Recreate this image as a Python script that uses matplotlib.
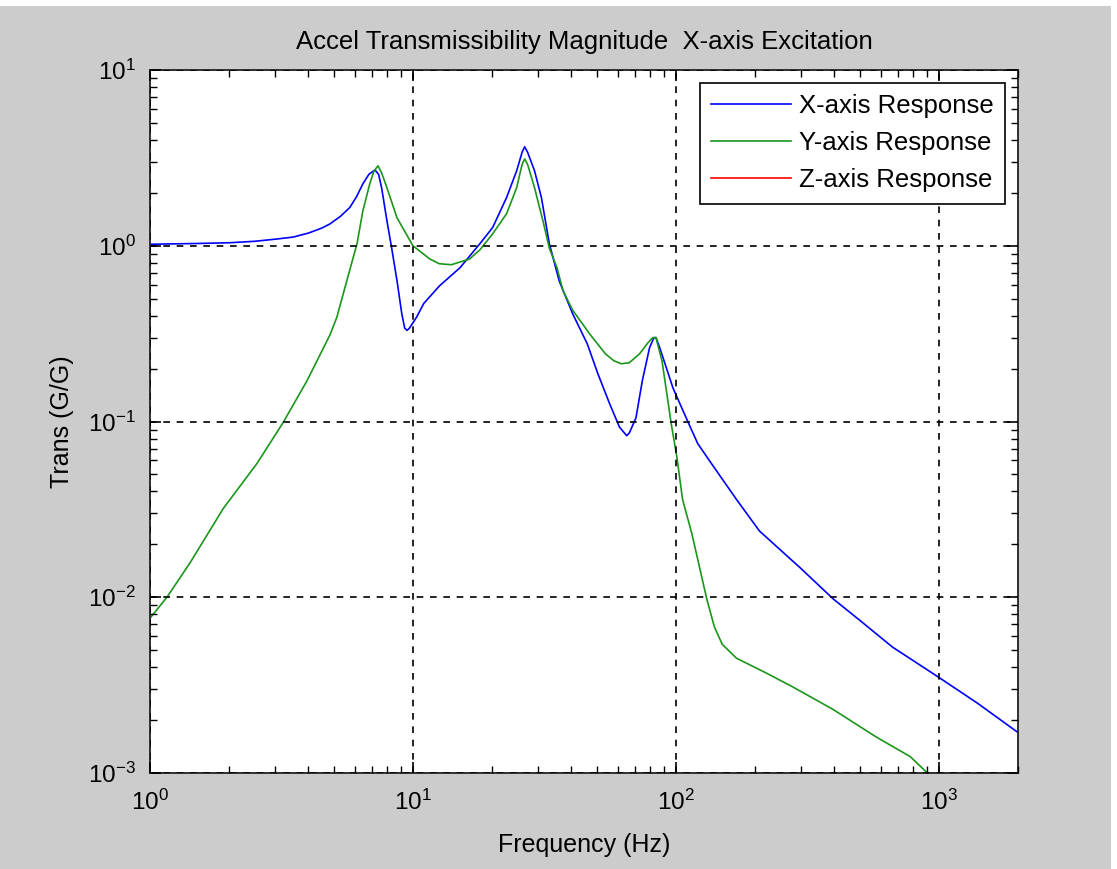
import matplotlib
matplotlib.use("Agg")
import matplotlib.pyplot as plt
from matplotlib.ticker import LogLocator, NullFormatter
from matplotlib.patches import Rectangle

plt.rcParams['font.family'] = ['Liberation Sans', 'DejaVu Sans']
plt.rcParams['mathtext.fontset'] = 'custom'
plt.rcParams['mathtext.rm'] = 'Liberation Sans'
plt.rcParams['mathtext.it'] = 'Liberation Sans'

title = "Accel Transmissibility Magnitude  X-axis Excitation"
xlabel = "Frequency (Hz)"
ylabel = "Trans (G/G)"
series_names = ["X-axis Response", "Y-axis Response", "Z-axis Response"]

freq_x = [1.0, 1.5, 2.0, 2.5, 3.0, 3.5, 4.0, 4.5, 4.83, 5.3, 5.75, 6.1, 6.45, 6.8, 7.17,
          7.4, 7.6, 7.96, 8.3, 8.7, 9.07, 9.3, 9.5, 9.7, 10.3, 11.0, 12.6, 15.1, 18.0,
          20.1, 22.7, 24.8, 26.0, 26.6, 27.3, 29.0, 30.8, 33.0, 36.0, 40.5, 46, 50.5,
          56, 61, 65, 66.5, 70.5, 74.5, 79.4, 82.5, 84, 86.8, 97.5, 110, 121, 134, 170,
          208, 300, 396, 500, 667, 1000, 1400, 2000]
trans_x = [1.02, 1.03, 1.04, 1.06, 1.09, 1.12, 1.18, 1.26, 1.33, 1.47, 1.65, 1.9, 2.25, 2.55, 2.7,
           2.55, 2.14, 1.39, 0.97, 0.63, 0.41, 0.34, 0.33, 0.34, 0.39, 0.47, 0.59, 0.75, 1.03,
           1.27, 1.88, 2.67, 3.4, 3.66, 3.4, 2.67, 1.88, 1.03, 0.63, 0.41, 0.277, 0.187,
           0.126, 0.093, 0.083, 0.086, 0.105, 0.17, 0.263, 0.30, 0.30, 0.263, 0.155, 0.103, 0.075, 0.06, 0.036,
           0.0238, 0.0145, 0.0098, 0.0074, 0.0052, 0.0035, 0.0025, 0.0017]

freq_y = [1.0, 1.16, 1.42, 1.9, 2.55, 3.2, 3.95, 4.83, 5.13, 5.6, 6.13, 6.45, 6.85, 7.1, 7.36,
          7.6, 7.96, 8.7, 10.0, 11.6, 12.6, 14.0, 16.4, 18.0, 20.1, 22.7, 24.8, 26.0, 26.6,
          27.3, 29.0, 31.2, 33.0, 35.3, 37.2, 40.5, 47, 53.9, 58, 62, 66.5, 72.8, 78.2, 81.6,
          84, 88.6, 92, 96, 101, 106, 115, 131, 140, 150, 170, 221, 277, 396, 579, 778, 945, 1000]
trans_y = [0.0076, 0.0100, 0.0157, 0.032, 0.0576, 0.098, 0.17, 0.31, 0.39, 0.63, 1.03, 1.58, 2.25, 2.65, 2.85,
           2.6, 2.14, 1.44, 1.0, 0.84, 0.79, 0.78, 0.84, 0.95, 1.17, 1.52, 2.14, 2.9, 3.12,
           2.9, 2.14, 1.39, 0.97, 0.75, 0.555, 0.43, 0.315, 0.243, 0.222, 0.213, 0.216, 0.243, 0.28, 0.30,
           0.30, 0.22, 0.15, 0.097, 0.062, 0.036, 0.023, 0.0098, 0.0068, 0.0054, 0.0045, 0.0037, 0.0031, 0.0023, 0.0016, 0.00124, 0.00094, 0.00088]

freq_z = []
trans_z = []

W, H = 1117, 869
fig = plt.figure(figsize=(W / 100, H / 100), dpi=100, facecolor='#cccccc')
# thin white screenshot border
fig.patches.append(Rectangle((0, 1 - 6 / H), 1, 6 / H, transform=fig.transFigure,
                             facecolor='white', edgecolor='none', zorder=-10))
fig.patches.append(Rectangle((1 - 6 / W, 0), 6 / W, 1, transform=fig.transFigure,
                             facecolor='white', edgecolor='none', zorder=-10))

ax = fig.add_axes([150 / W, 1 - 773 / H, (1018 - 150) / W, (773 - 70) / H])
ax.set_facecolor('white')

ax.plot(freq_x, trans_x, color='#0000ff', lw=1.2, label=series_names[0])
ax.plot(freq_y, trans_y, color='#1a961a', lw=1.2, label=series_names[1])
ax.plot(freq_z, trans_z, color='#ff0000', lw=1.2, label=series_names[2])

ax.set_xscale('log')
ax.set_yscale('log')
ax.set_xlim(1, 2000)
ax.set_ylim(1e-3, 10)

ax.xaxis.set_major_locator(LogLocator(base=10, numticks=10))
ax.yaxis.set_major_locator(LogLocator(base=10, numticks=10))
ax.xaxis.set_minor_locator(LogLocator(base=10, subs=range(2, 10), numticks=20))
ax.yaxis.set_minor_locator(LogLocator(base=10, subs=range(2, 10), numticks=20))
ax.xaxis.set_minor_formatter(NullFormatter())
ax.yaxis.set_minor_formatter(NullFormatter())

ax.tick_params(which='both', direction='in', top=True, right=True, colors='black',
               labelsize=17.5)
ax.tick_params(which='major', length=8, width=1.2)
ax.tick_params(which='minor', length=5, width=1.0)
ax.tick_params(axis='x', which='major', pad=12)
ax.tick_params(axis='y', which='major', pad=10)

for s in ax.spines.values():
    s.set_linewidth(1.3)
    s.set_color('#222222')

ax.grid(True, which='major', color='black', linestyle=(0, (4, 4)), linewidth=1.2)
ax.grid(False, which='minor')
ax.set_axisbelow(False)

ax.set_title(title, fontsize=18.5, pad=15)
ax.set_xlabel(xlabel, fontsize=18, labelpad=13)
ax.set_ylabel(ylabel, fontsize=18, labelpad=10)

leg = ax.legend(loc='upper right', fontsize=18.5, frameon=True, fancybox=False,
                edgecolor='black', framealpha=1, handlelength=3.1, borderpad=0.45,
                labelspacing=0.5, handletextpad=0.3, borderaxespad=0.5)
leg.get_frame().set_linewidth(1.2)

fig.savefig('out.png', dpi=100, facecolor=fig.get_facecolor())
